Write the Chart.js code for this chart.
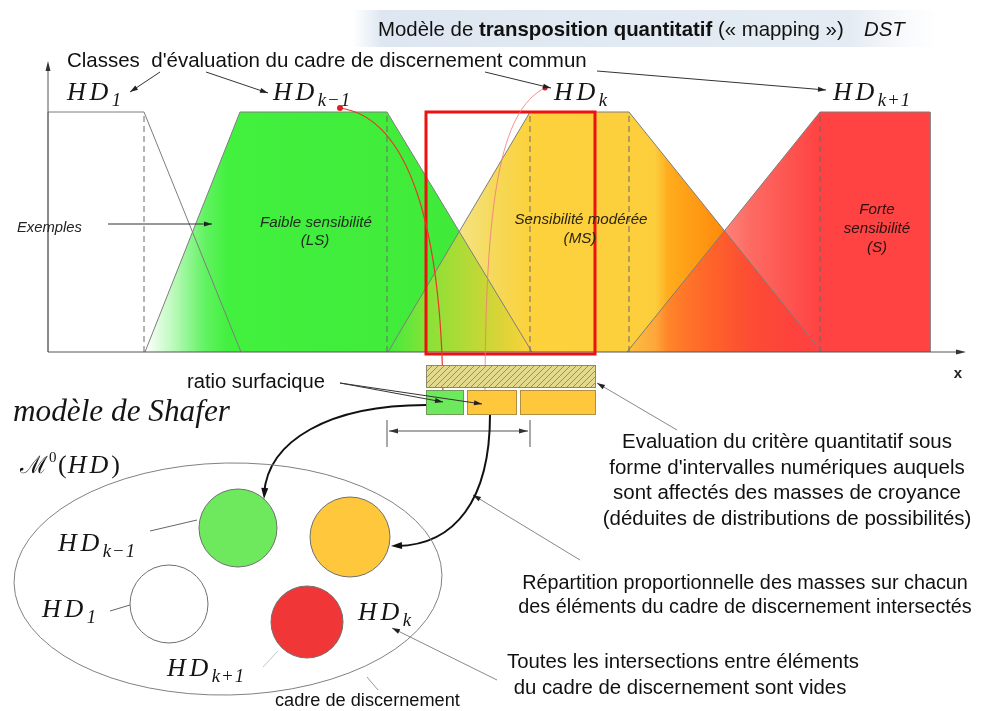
<!DOCTYPE html>
<html>
<head>
<meta charset="utf-8">
<script src="https://cdn.jsdelivr.net/npm/chart.js@4.4.0/dist/chart.umd.min.js"></script>
<style>
  html, body { margin: 0; padding: 0; background: #fff; }
  #c { display: block; }
</style>
</head>
<body>
<canvas id="c" width="987" height="711"></canvas>
<script>
// Membership functions of the common frame (criterion value -> degree)
const hd1X = [48, 48, 144, 241];
const hd1Mu = [0, 1, 1, 0];
const lsX = [145, 240, 387, 532];
const lsMu = [0, 1, 1, 0];
const msX = [388, 530, 629, 822];
const msMu = [0, 1, 1, 0];
const sX = [627, 820, 930, 930];
const sMu = [0, 1, 1, 0];

// Interval evaluation (hatched) and the focal intervals it is split into
const evalInterval = [426, 595];
const focalStart = [426, 467, 520];
const focalEnd = [463, 516, 595];
const focalClass = ['ls', 'ms', 'ms'];
const spanInterval = [387, 530];

// Shafer model: elements of the frame of discernment
const elemNames = ['1', 'k−1', 'k', 'k+1'];
const elemClass = ['hd1', 'ls', 'ms', 's'];
const elemX = [169, 238, 350, 307];
const elemY = [604, 528, 537, 622];
const elemR = [39, 39, 40, 36];

const SANS = '"Liberation Sans", Arial, sans-serif';
const SERIF = '"Liberation Serif", "DejaVu Serif", serif';
const classColor = { hd1: '#ffffff', ls: '#6EE85C', ms: '#FFC83C', s: '#F03636' };

const pts = (xs, ys) => xs.map((x, i) => ({ x, y: ys[i] }));

// horizontal gradient in data units of the x scale
function hGrad(chart, stops) {
    const { ctx, chartArea, scales } = chart;
    if (!chartArea) return 'rgba(0,0,0,0)';
    const g = ctx.createLinearGradient(chartArea.left, 0, chartArea.right, 0);
    const w = chartArea.right - chartArea.left;
    stops.forEach(([v, c]) => {
        const f = (scales.x.getPixelForValue(v) - chartArea.left) / w;
        g.addColorStop(Math.min(1, Math.max(0, f)), c);
    });
    return g;
}

const fillSet = (xs, ys, stops, order) => ({
    data: pts(xs, ys), yAxisID: 'mu', showLine: true, pointRadius: 0, borderWidth: 0,
    fill: 'origin', order,
    backgroundColor: (c) => hGrad(c.chart, stops)
});

const outlineSet = (xs, ys) => ({
    data: pts(xs, ys), yAxisID: 'mu', showLine: true, pointRadius: 0,
    borderColor: '#7d7d7d', borderWidth: 1, fill: false, order: 20
});

// dashed verticals under the top corners of the classes
const dashedCorners = [hd1X[2], lsX[2], msX[1], msX[2], sX[1]];

const datasets = [
    fillSet(lsX, lsMu, [[145, 'rgba(70,240,70,0)'], [172, 'rgba(70,240,70,0.35)'], [205, 'rgba(70,240,70,0.85)'], [228, 'rgba(66,240,62,1)'], [532, 'rgba(64,232,56,1)']], 30),
    fillSet(msX, msMu, [[388, 'rgba(235,215,60,0)'], [430, 'rgba(232,212,50,0.45)'], [500, 'rgba(245,208,55,0.85)'], [530, 'rgba(252,210,60,1)'], [655, 'rgba(252,206,60,1)'], [668, 'rgba(255,172,30,1)'], [720, 'rgba(255,140,12,1)'], [790, 'rgba(250,62,22,1)'], [822, 'rgba(240,30,20,1)']], 29),
    fillSet(sX, sMu, [[627, 'rgba(255,70,60,0.1)'], [680, 'rgba(255,70,60,0.45)'], [750, 'rgba(252,70,60,0.8)'], [820, 'rgba(255,66,66,1)'], [930, 'rgba(255,66,66,1)']], 28),
    outlineSet(hd1X, hd1Mu),
    outlineSet(lsX, lsMu),
    outlineSet(msX, msMu),
    outlineSet(sX, sMu),
    ...dashedCorners.map(x => ({
        data: [{ x, y: 0 }, { x, y: 1 }], yAxisID: 'mu', showLine: true, pointRadius: 0,
        borderColor: '#6a6a6a', borderWidth: 1, borderDash: [6, 4], fill: false, order: 10
    })),
    {
        type: 'bubble', yAxisID: 'py', order: 5,
        data: elemX.map((x, i) => ({ x, y: elemY[i], r: elemR[i] })),
        backgroundColor: elemClass.map(k => classColor[k]),
        borderColor: '#6f6f6f', borderWidth: 1
    }
];

function arrowHead(ctx, x0, y0, x1, y1, len, wid, color) {
    const a = Math.atan2(y1 - y0, x1 - x0);
    ctx.save();
    ctx.translate(x1, y1);
    ctx.rotate(a);
    ctx.beginPath();
    ctx.moveTo(0, 0);
    ctx.lineTo(-len, wid / 2);
    ctx.lineTo(-len, -wid / 2);
    ctx.closePath();
    ctx.fillStyle = color;
    ctx.fill();
    ctx.restore();
}

function fitSize(ctx, s, style, fam, width) {
    ctx.font = `${style} 20px ${fam}`;
    return 20 * width / ctx.measureText(s).width;
}

function text(ctx, s, x, y, size, style, fam, color, align) {
    ctx.font = `${style} ${size}px ${fam}`;
    ctx.fillStyle = color || '#111';
    ctx.textAlign = align || 'left';
    ctx.textBaseline = 'alphabetic';
    ctx.fillText(s, x, y);
}

function hdLabel(ctx, x, y, sub, size) {
    ctx.save();
    ctx.fillStyle = '#151515';
    ctx.textAlign = 'left';
    ctx.font = `italic ${size}px ${SERIF}`;
    ctx.letterSpacing = `${(size * 0.14).toFixed(1)}px`;
    ctx.fillText('HD', x, y);
    const w = ctx.measureText('HD').width;
    ctx.font = `italic ${size * 0.72}px ${SERIF}`;
    ctx.letterSpacing = '1px';
    ctx.fillText(sub, x + w, y + size * 0.24);
    ctx.restore();
}

const diagram = {
    id: 'diagram',
    beforeDatasetsDraw(chart) {
        const { ctx, scales } = chart;
        const X = v => scales.x.getPixelForValue(v);
        const Y = v => scales.py.getPixelForValue(v);
        // light title band
        const g = ctx.createLinearGradient(X(352), 0, X(938), 0);
        g.addColorStop(0, 'rgba(226,234,243,0)');
        g.addColorStop(0.05, 'rgba(222,231,241,1)');
        g.addColorStop(0.85, 'rgba(228,235,243,1)');
        g.addColorStop(1, 'rgba(240,244,248,0)');
        ctx.fillStyle = g;
        ctx.fillRect(X(352), Y(10), X(938) - X(352), Y(47) - Y(10));
    },
    afterDatasetsDraw(chart) {
        const { ctx, scales } = chart;
        const X = v => scales.x.getPixelForValue(v);
        const Y = v => scales.py.getPixelForValue(v);
        const M = v => scales.mu.getPixelForValue(v);
        ctx.save();

        // axes
        ctx.strokeStyle = '#555';
        ctx.lineWidth = 1;
        ctx.beginPath();
        ctx.moveTo(X(48), M(0)); ctx.lineTo(X(962), M(0));
        ctx.moveTo(X(48), M(0)); ctx.lineTo(X(48), Y(66));
        ctx.stroke();
        arrowHead(ctx, X(48), M(0), X(966), M(0), 10, 5, '#333');
        arrowHead(ctx, X(48), M(0), X(48), Y(61), 10, 5, '#333');
        text(ctx, 'x', X(958), Y(378), 15, 'bold', SANS, '#222', 'center');

        // red selection rectangle
        ctx.strokeStyle = '#EE1111';
        ctx.lineWidth = 3;
        ctx.strokeRect(X(evalInterval[0]), Y(112), X(evalInterval[1]) - X(evalInterval[0]), Y(354) - Y(112));

        // red mapping curves
        ctx.lineWidth = 1.2;
        ctx.strokeStyle = '#E53A2A';
        ctx.beginPath();
        ctx.moveTo(X(340), Y(108));
        ctx.bezierCurveTo(X(410), Y(118), X(442), Y(230), X(443), Y(400));
        ctx.stroke();
        ctx.strokeStyle = 'rgba(240,120,120,0.8)';
        ctx.lineWidth = 1;
        ctx.beginPath();
        ctx.moveTo(X(545), Y(88));
        ctx.bezierCurveTo(X(500), Y(110), X(485), Y(200), X(485), Y(400));
        ctx.stroke();
        ctx.fillStyle = '#E02020';
        ctx.beginPath(); ctx.arc(X(340), Y(108), 3, 0, Math.PI * 2); ctx.fill();
        ctx.beginPath(); ctx.arc(X(545), Y(88), 2.5, 0, Math.PI * 2); ctx.fill();

        // hatched evaluation interval
        const pc = document.createElement('canvas');
        pc.width = 6; pc.height = 6;
        const p = pc.getContext('2d');
        p.fillStyle = '#E4DA8E';
        p.fillRect(0, 0, 6, 6);
        p.strokeStyle = '#9C9048';
        p.lineWidth = 1;
        p.beginPath();
        p.moveTo(0, 6); p.lineTo(6, 0);
        p.moveTo(-1, 1); p.lineTo(1, -1);
        p.moveTo(5, 7); p.lineTo(7, 5);
        p.stroke();
        ctx.fillStyle = ctx.createPattern(pc, 'repeat');
        ctx.fillRect(X(evalInterval[0]), Y(365), X(evalInterval[1]) - X(evalInterval[0]), Y(387) - Y(365));
        ctx.strokeStyle = '#8a8a6a';
        ctx.lineWidth = 1;
        ctx.strokeRect(X(evalInterval[0]) + 0.5, Y(365) + 0.5, X(evalInterval[1]) - X(evalInterval[0]), Y(387) - Y(365));

        // focal intervals
        focalStart.forEach((s, i) => {
            ctx.fillStyle = classColor[focalClass[i]];
            ctx.fillRect(X(s), Y(390), X(focalEnd[i]) - X(s), Y(414) - Y(390));
            ctx.strokeStyle = focalClass[i] === 'ls' ? '#6f9a5a' : '#b09040';
            ctx.strokeRect(X(s) + 0.5, Y(390) + 0.5, X(focalEnd[i]) - X(s), Y(414) - Y(390));
        });

        // span dimension line
        ctx.strokeStyle = '#555';
        ctx.beginPath();
        ctx.moveTo(X(spanInterval[0]), Y(420)); ctx.lineTo(X(spanInterval[0]), Y(447));
        ctx.moveTo(X(spanInterval[1]), Y(420)); ctx.lineTo(X(spanInterval[1]), Y(447));
        ctx.moveTo(X(spanInterval[0] + 2), Y(431)); ctx.lineTo(X(spanInterval[1] - 2), Y(431));
        ctx.stroke();
        arrowHead(ctx, X(spanInterval[1]), Y(431), X(spanInterval[0] + 2), Y(431), 9, 5, '#333');
        arrowHead(ctx, X(spanInterval[0]), Y(431), X(spanInterval[1] - 2), Y(431), 9, 5, '#333');

        // thin pointer lines with heads
        const pointer = (x0, y0, x1, y1, color, head) => {
            ctx.strokeStyle = color;
            ctx.lineWidth = 1;
            ctx.beginPath(); ctx.moveTo(X(x0), Y(y0)); ctx.lineTo(X(x1), Y(y1)); ctx.stroke();
            if (head) arrowHead(ctx, X(x0), Y(y0), X(x1), Y(y1), 8, 5, '#222');
        };
        pointer(160, 72, 130, 92, '#333', true);
        pointer(206, 72, 268, 93, '#333', true);
        pointer(485, 72, 551, 88, '#333', true);
        pointer(597, 71, 826, 90, '#333', true);
        pointer(108, 224, 212, 224, '#333', true);
        pointer(340, 383, 443, 402, '#333', true);
        pointer(340, 383, 482, 404, '#333', true);
        pointer(677, 430, 597, 383, '#888', true);
        pointer(580, 560, 473, 495, '#888', true);
        pointer(497, 680, 392, 628, '#888', true);
        pointer(367, 677, 378, 690, '#999', false);
        pointer(150, 531, 197, 520, '#666', false);
        pointer(110, 611, 130, 605, '#666', false);
        pointer(263, 667, 278, 651, '#b8c8d8', false);

        // black transfer curves
        ctx.strokeStyle = '#111';
        ctx.lineWidth = 2;
        ctx.beginPath();
        ctx.moveTo(X(426), Y(405));
        ctx.bezierCurveTo(X(330), Y(405), X(268), Y(440), X(264), Y(494));
        ctx.stroke();
        arrowHead(ctx, X(266), Y(470), X(264), Y(499), 11, 7, '#111');
        ctx.beginPath();
        ctx.moveTo(X(490), Y(415));
        ctx.bezierCurveTo(X(490), Y(500), X(455), Y(545), X(397), Y(546));
        ctx.stroke();
        arrowHead(ctx, X(420), Y(545), X(391), Y(546), 11, 7, '#111');

        // frame of discernment (ellipse)
        ctx.strokeStyle = '#808080';
        ctx.lineWidth = 1;
        ctx.beginPath();
        ctx.ellipse(X(228), Y(579), X(442) - X(228), Y(695) - Y(579), -0.02, 0, Math.PI * 2);
        ctx.stroke();

        // title
        const title = [['Modèle de ', 'normal'], ['transposition quantitatif', 'bold'], [' (« mapping »)', 'normal']];
        let tw = 0;
        title.forEach(([s, st]) => { ctx.font = `${st} 20px ${SANS}`; tw += ctx.measureText(s).width; });
        const ts = 20 * 466 / tw;
        let tx = X(378);
        title.forEach(([s, st]) => {
            text(ctx, s, tx, Y(36), ts, st, SANS, '#111');
            tx += ctx.measureText(s).width;
        });
        text(ctx, 'DST', X(864), Y(36), ts, 'italic', SANS, '#111');

        // class labels at the top
        const cs = fitSize(ctx, "Classes  d'évaluation du cadre de discernement commun", 'normal', SANS, 520);
        text(ctx, "Classes  d'évaluation du cadre de discernement commun", X(67), Y(67), cs, 'normal', SANS, '#111');
        hdLabel(ctx, X(67), Y(100), elemNames[0], 26);
        hdLabel(ctx, X(273), Y(100), elemNames[1], 26);
        hdLabel(ctx, X(554), Y(100), elemNames[2], 26);
        hdLabel(ctx, X(833), Y(100), elemNames[3], 26);

        // labels inside the plot
        const es = fitSize(ctx, 'Exemples', 'italic', SANS, 65);
        text(ctx, 'Exemples', X(17), Y(232), es, 'italic', SANS, '#222');
        const fs = fitSize(ctx, 'Faible sensibilité', 'italic', SANS, 112);
        text(ctx, 'Faible sensibilité', X(316), Y(227), fs, 'italic', SANS, '#1d2a1d', 'center');
        text(ctx, '(LS)', X(315), Y(245), fs, 'italic', SANS, '#1d2a1d', 'center');
        text(ctx, 'Sensibilité modérée', X(581), Y(224), fs, 'italic', SANS, '#2a2410', 'center');
        text(ctx, '(MS)', X(580), Y(243), fs, 'italic', SANS, '#2a2410', 'center');
        text(ctx, 'Forte', X(877), Y(214), fs, 'italic', SANS, '#2a1010', 'center');
        text(ctx, 'sensibilité', X(877), Y(233), fs, 'italic', SANS, '#2a1010', 'center');
        text(ctx, '(S)', X(877), Y(252), fs, 'italic', SANS, '#2a1010', 'center');

        // lower left texts
        const rs = fitSize(ctx, 'ratio surfacique', 'normal', SANS, 138);
        text(ctx, 'ratio surfacique', X(187), Y(388), rs, 'normal', SANS, '#111');
        const ss = fitSize(ctx, 'modèle de Shafer', 'italic', SERIF, 217);
        text(ctx, 'modèle de Shafer', X(13), Y(421), ss, 'italic', SERIF, '#151515');
        // M^0(HD)
        text(ctx, 'ℳ', X(20), Y(473), 24, 'normal', SERIF, '#151515');
        const mw = ctx.measureText('ℳ').width;
        text(ctx, '0', X(20) + mw + 1, Y(462), 15, 'normal', SERIF, '#151515');
        const px0 = X(20) + mw + 10;
        text(ctx, '(', px0, Y(473), 26, 'normal', SERIF, '#151515');
        const pw = ctx.measureText('(').width;
        ctx.letterSpacing = '3px';
        text(ctx, 'HD', px0 + pw + 1, Y(473), 26, 'italic', SERIF, '#151515');
        const hw = ctx.measureText('HD').width;
        ctx.letterSpacing = '0px';
        text(ctx, ')', px0 + pw + hw + 1, Y(473), 26, 'normal', SERIF, '#151515');

        hdLabel(ctx, X(58), Y(551), elemNames[1], 26);
        hdLabel(ctx, X(42), Y(617), elemNames[0], 26);
        hdLabel(ctx, X(358), Y(620), elemNames[2], 26);
        hdLabel(ctx, X(167), Y(676), elemNames[3], 26);

        // explanatory blocks
        const evalLines = ['Evaluation du critère quantitatif sous', "forme d'intervalles numériques auquels", 'sont affectés des masses de croyance', '(déduites de distributions de possibilités)'];
        const vs = fitSize(ctx, evalLines[0], 'normal', SANS, 330);
        evalLines.forEach((s, i) => text(ctx, s, X(787), Y(448 + i * 25.5), vs, 'normal', SANS, '#111', 'center'));
        const repLines = ['Répartition proportionnelle des masses sur chacun', 'des éléments du cadre de discernement intersectés'];
        const ps = fitSize(ctx, repLines[0], 'normal', SANS, 446);
        repLines.forEach((s, i) => text(ctx, s, X(745), Y(589 + i * 24), ps, 'normal', SANS, '#111', 'center'));
        const totLines = ['Toutes les intersections entre éléments', 'du cadre de discernement sont vides'];
        const qs = fitSize(ctx, totLines[0], 'normal', SANS, 352);
        totLines.forEach((s, i) => text(ctx, s, X(683 - i * 3), Y(668 + i * 26), qs, 'normal', SANS, '#111', 'center'));
        const ks = fitSize(ctx, 'cadre de discernement', 'normal', SANS, 185);
        text(ctx, 'cadre de discernement', X(275), Y(706), ks, 'normal', SANS, '#111');

        ctx.restore();
    }
};

new Chart(document.getElementById('c'), {
    type: 'scatter',
    data: { datasets },
    options: {
        responsive: false,
        animation: false,
        events: [],
        layout: { padding: 0, autoPadding: false },
        elements: { line: { tension: 0 } },
        plugins: { legend: { display: false }, tooltip: { enabled: false } },
        scales: {
            x: { type: 'linear', min: 0, max: 987, display: false },
            py: { type: 'linear', min: 0, max: 711, reverse: true, display: false },
            // degree of membership: 0 sits on the baseline, 1 on the plateau
            mu: { type: 'linear', min: -1.4958, max: 1.4667, display: false }
        }
    },
    plugins: [diagram]
});
</script>
</body>
</html>
